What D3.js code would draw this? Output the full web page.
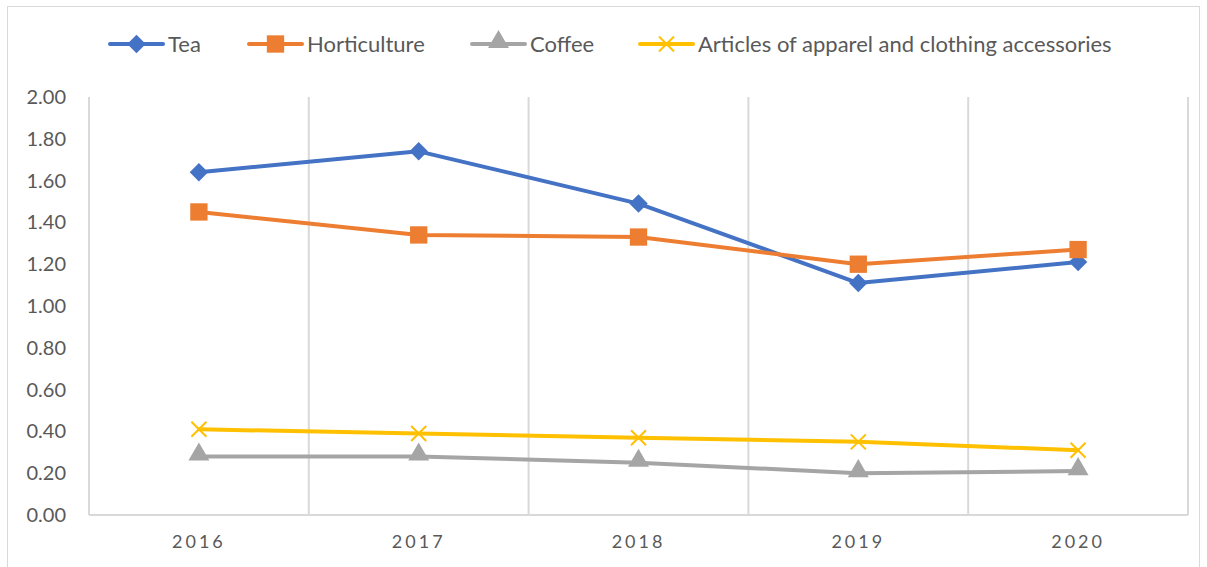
<!DOCTYPE html>
<html>
<head>
<meta charset="utf-8">
<script src="https://cdn.jsdelivr.net/npm/d3@7"></script>
<style>
  body { margin: 0; background: #fff; }
  svg { display: block; font-family: Lato, "Open Sans", sans-serif; }
</style>
</head>
<body>
<div id="chart"></div>
<script>
const years = ['2016', '2017', '2018', '2019', '2020']
const tea = [1.64, 1.74, 1.49, 1.11, 1.21]
const horticulture = [1.45, 1.34, 1.33, 1.20, 1.27]
const coffee = [0.28, 0.28, 0.25, 0.20, 0.21]
const apparel = [0.41, 0.39, 0.37, 0.35, 0.31]
const yTicks = [0, 0.2, 0.4, 0.6, 0.8, 1.0, 1.2, 1.4, 1.6, 1.8, 2.0]

const series = [
  { name: 'Tea', values: tea, color: '#4472c4', marker: 'diamond' },
  { name: 'Horticulture', values: horticulture, color: '#ed7d31', marker: 'square' },
  { name: 'Coffee', values: coffee, color: '#a5a5a5', marker: 'triangle' },
  { name: 'Articles of apparel and clothing accessories', values: apparel, color: '#ffc000', marker: 'cross' }
]

const width = 1207, height = 567
const plot = { left: 89, right: 1188, top: 97, bottom: 515 }

const svg = d3.select('#chart').append('svg')
  .attr('width', width)
  .attr('height', height)

// outer frame
svg.append('rect')
  .attr('x', 7.5).attr('y', 6.5)
  .attr('width', 1192).attr('height', 580)
  .attr('fill', 'none').attr('stroke', '#d9d9d9')

const x = d3.scaleBand().domain(years).range([plot.left, plot.right]).padding(0)
const y = d3.scaleLinear().domain([0, 2]).range([plot.bottom, plot.top])
const cx = d => x(d) + x.bandwidth() / 2

// vertical gridlines at band boundaries
const gridXs = years.map(d => x(d)).concat([plot.right])
svg.append('g').selectAll('line')
  .data(gridXs)
  .enter().append('line')
  .attr('x1', d => d).attr('x2', d => d)
  .attr('y1', plot.top).attr('y2', plot.bottom)
  .attr('stroke', '#d9d9d9').attr('stroke-width', 2)

// bottom axis line
svg.append('line')
  .attr('x1', plot.left).attr('x2', plot.right)
  .attr('y1', plot.bottom).attr('y2', plot.bottom)
  .attr('stroke', '#d9d9d9').attr('stroke-width', 2)

// y axis labels
const yAxis = d3.axisLeft(y).tickValues(yTicks).tickFormat(d3.format('.2f')).tickSize(0).tickPadding(0)
svg.append('g')
  .attr('transform', 'translate(66,0)')
  .call(yAxis)
  .call(g => g.select('.domain').remove())
  .selectAll('text')
  .attr('fill', '#595959')
  .style('font-size', '20px')
  .style('font-family', 'Lato, "Open Sans", sans-serif')

// x axis labels
const xAxis = d3.axisBottom(x).tickSize(0).tickPadding(0)
svg.append('g')
  .attr('transform', 'translate(0,535)')
  .call(xAxis)
  .call(g => g.select('.domain').remove())
  .selectAll('text')
  .attr('fill', '#595959')
  .style('font-size', '18px')
  .style('letter-spacing', '3px')
  .style('font-family', 'Lato, "Open Sans", sans-serif')

const symbols = {
  square: d3.symbol().type(d3.symbolSquare).size(300),
  triangle: d3.symbol().type(d3.symbolTriangle).size(190)
}

function drawMarker(g, type, color) {
  if (type === 'cross') {
    g.append('path')
      .attr('d', 'M-7.5,-7.5L7.5,7.5M-7.5,7.5L7.5,-7.5')
      .attr('stroke', color).attr('stroke-width', 2).attr('fill', 'none')
  } else if (type === 'diamond') {
    g.append('path')
      .attr('d', d3.symbol().type(d3.symbolSquare).size(170)())
      .attr('transform', 'rotate(45)')
      .attr('fill', color)
  } else {
    g.append('path')
      .attr('d', symbols[type]())
      .attr('fill', color)
      .attr('transform', type === 'triangle' ? 'translate(0,-2)' : null)
  }
}

const line = d3.line().x(d => cx(d.year)).y(d => y(d.value))

series.forEach(s => {
  const pts = years.map((yr, i) => ({ year: yr, value: s.values[i] }))
  svg.append('path')
    .datum(pts)
    .attr('d', line)
    .attr('fill', 'none')
    .attr('stroke', s.color)
    .attr('stroke-width', 4)
    .attr('stroke-linejoin', 'round')
    .attr('stroke-linecap', 'round')
  svg.append('g').selectAll('g')
    .data(pts)
    .enter().append('g')
    .attr('transform', d => 'translate(' + cx(d.year) + ',' + y(d.value) + ')')
    .each(function () { drawMarker(d3.select(this), s.marker, s.color) })
})

// legend
const legendX = [110, 249, 472, 640]
const legend = svg.append('g').attr('transform', 'translate(0,44)')
series.forEach((s, i) => {
  const g = legend.append('g').attr('transform', 'translate(' + legendX[i] + ',0)')
  g.append('line')
    .attr('x1', 0).attr('x2', 53)
    .attr('stroke', s.color).attr('stroke-width', 4).attr('stroke-linecap', 'round')
  const m = g.append('g').attr('transform', 'translate(26.5,0)')
  drawMarker(m, s.marker, s.color)
  g.append('text')
    .attr('x', 58).attr('y', 0).attr('dy', '0.35em')
    .attr('fill', '#595959')
    .style('font-size', '22px')
    .text(s.name)
})
</script>
</body>
</html>
